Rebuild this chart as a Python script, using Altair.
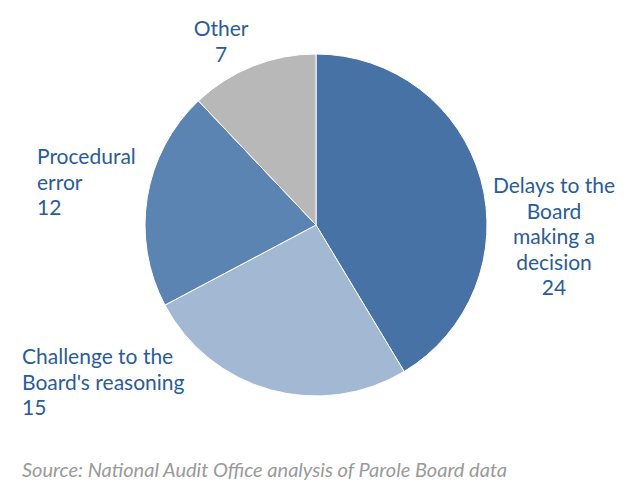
import altair as alt
import pandas as pd

categories = ["Delays to the Board making a decision", "Challenge to the Board's reasoning", "Procedural error", "Other"]
values = [24, 15, 12, 7]
colors = ["#4672a5", "#a3b9d3", "#5b84b2", "#b8b8b8"]
order = [1, 2, 3, 4]

df = pd.DataFrame({"category": categories, "value": values, "order": order})

W, H = 618, 484
CX, CY = 308, 217
R = 171
FONT = "Lato"
TXT = "#2b5c97"

pie = alt.Chart(df).mark_arc(outerRadius=R, stroke="white", strokeWidth=1).encode(
    theta=alt.Theta("value:Q", stack=True),
    color=alt.Color("category:N", scale=alt.Scale(domain=categories, range=colors), legend=None),
    order=alt.Order("order:Q"),
    x=alt.value(CX),
    y=alt.value(CY),
)

def label(lines, x, y, align):
    return alt.Chart(pd.DataFrame({"t": [lines]})).mark_text(
        align=align, baseline="middle", font=FONT, fontSize=21, lineHeight=25.5, color=TXT
    ).encode(text="t:N", x=alt.value(x), y=alt.value(y))

lab_delays = label(["Delays to the", "Board", "making a", "decision", str(values[0])], 546, 179, "center")
lab_chall = label(["Challenge to the", "Board's reasoning", str(values[1])], 14, 350, "left")
lab_proc = label(["Procedural", "error", str(values[2])], 29, 150, "left")
lab_other = label(["Other", str(values[3])], 213, 22, "center")

source = alt.Chart(pd.DataFrame({"t": ["Source: National Audit Office analysis of Parole Board data"]})).mark_text(
    align="left", baseline="middle", font=FONT, fontSize=20, fontStyle="italic", color="#9a9a9a"
).encode(text="t:N", x=alt.value(14), y=alt.value(463))

chart = alt.layer(pie, lab_delays, lab_chall, lab_proc, lab_other, source).properties(
    width=W, height=H, padding=0,
    autosize=alt.AutoSizeParams(type="none"),
).configure_view(stroke=None)

chart.save("out.html", embed_options={"renderer": "svg", "actions": False})
